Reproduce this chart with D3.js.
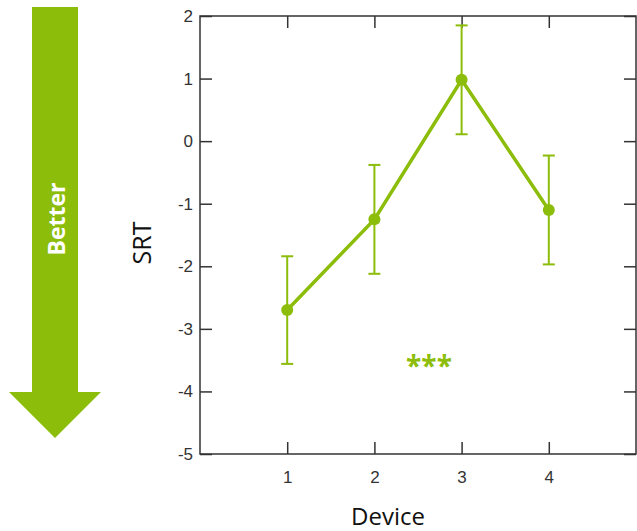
<!DOCTYPE html>
<html>
<head>
<meta charset="utf-8">
<script src="https://cdn.jsdelivr.net/npm/d3@7"></script>
<style>
  body { margin: 0; background: #fff; }
  svg text { font-family: "Open Sans", sans-serif; }
  .tick text { font-family: "Liberation Sans", Arial, sans-serif; font-size: 17px; fill: #333; }
</style>
</head>
<body>
<div id="chart"></div>
<script>
// data
const devices = [1, 2, 3, 4];
const srtMean = [-2.70, -1.25, 0.98, -1.10];
const srtErr  = [0.86, 0.87, 0.87, 0.87];
const yTicks = [2, 1, 0, -1, -2, -3, -4, -5];

const green = "#8cbd0a";

const W = 637, H = 531;
const box = {left: 200, top: 16, right: 636, bottom: 454};

const svg = d3.select("#chart").append("svg")
    .attr("width", W)
    .attr("height", H);

const x = d3.scaleLinear().domain([0, 5]).range([box.left, box.right]);
const y = d3.scaleLinear().domain([-5, 2]).range([box.bottom, box.top]);

// plain hyphen for negatives, no decimals
const fmt = d => String(d);

// axes with inward ticks on all four sides
const tickLen = 12;
svg.append("g")
    .attr("transform", `translate(0,${box.bottom})`)
    .call(d3.axisBottom(x).tickValues(devices).tickFormat(fmt).tickSizeInner(-tickLen).tickSizeOuter(0).tickPadding(tickLen + 5));
svg.append("g")
    .attr("transform", `translate(0,${box.top})`)
    .call(d3.axisTop(x).tickValues(devices).tickSizeInner(-tickLen).tickSizeOuter(0).tickFormat(""));
svg.append("g")
    .attr("transform", `translate(${box.left},0)`)
    .call(d3.axisLeft(y).tickValues(yTicks).tickFormat(fmt).tickSizeInner(-tickLen).tickSizeOuter(0).tickPadding(7));
svg.append("g")
    .attr("transform", `translate(${box.right},0)`)
    .call(d3.axisRight(y).tickValues(yTicks).tickSizeInner(-tickLen).tickSizeOuter(0).tickFormat(""));

svg.selectAll(".domain").remove();
svg.selectAll(".tick line").attr("stroke", "#333").attr("stroke-width", 1.5);

svg.append("rect")
    .attr("x", box.left).attr("y", box.top)
    .attr("width", box.right - box.left).attr("height", box.bottom - box.top)
    .attr("fill", "none").attr("stroke", "#333").attr("stroke-width", 1.5);

// error bars
const capW = 6;
const eb = svg.append("g").attr("stroke", green).attr("stroke-width", 2);
devices.forEach((d, i) => {
    const hi = y(srtMean[i] + srtErr[i]), lo = y(srtMean[i] - srtErr[i]);
    eb.append("line").attr("x1", x(d)).attr("x2", x(d)).attr("y1", hi).attr("y2", lo);
    eb.append("line").attr("x1", x(d) - capW).attr("x2", x(d) + capW).attr("y1", hi).attr("y2", hi);
    eb.append("line").attr("x1", x(d) - capW).attr("x2", x(d) + capW).attr("y1", lo).attr("y2", lo);
});

// mean line and markers
svg.append("path")
    .datum(devices.map((d, i) => [d, srtMean[i]]))
    .attr("fill", "none")
    .attr("stroke", green)
    .attr("stroke-width", 3.5)
    .attr("d", d3.line().x(d => x(d[0])).y(d => y(d[1])));

svg.selectAll(".pt")
    .data(devices)
    .enter().append("circle")
    .attr("class", "pt")
    .attr("cx", d => x(d))
    .attr("cy", (d, i) => y(srtMean[i]))
    .attr("r", 6)
    .attr("fill", green);

// significance marker
svg.append("text")
    .attr("x", 429).attr("y", 376)
    .attr("text-anchor", "middle")
    .attr("font-weight", "bold")
    .attr("font-size", 28)
    .attr("fill", green)
    .text("***");

// axis titles
svg.append("text")
    .attr("transform", "translate(151,243) rotate(-90)")
    .attr("text-anchor", "middle")
    .attr("font-size", 25)
    .attr("fill", "#111")
    .text("SRT");

svg.append("text")
    .attr("x", 388).attr("y", 525)
    .attr("text-anchor", "middle")
    .attr("font-size", 24)
    .attr("fill", "#111")
    .text("Device");

// "Better" arrow pointing down
const arrow = [[32, 7], [78, 7], [78, 392], [101, 392], [55, 438], [9, 392], [32, 392]];
svg.append("path")
    .attr("d", d3.line()(arrow) + "Z")
    .attr("fill", green);

svg.append("text")
    .attr("transform", "translate(65,219) rotate(-90)")
    .attr("text-anchor", "middle")
    .attr("font-weight", "bold")
    .attr("font-size", 23)
    .attr("fill", "#fff")
    .text("Better");
</script>
</body>
</html>
